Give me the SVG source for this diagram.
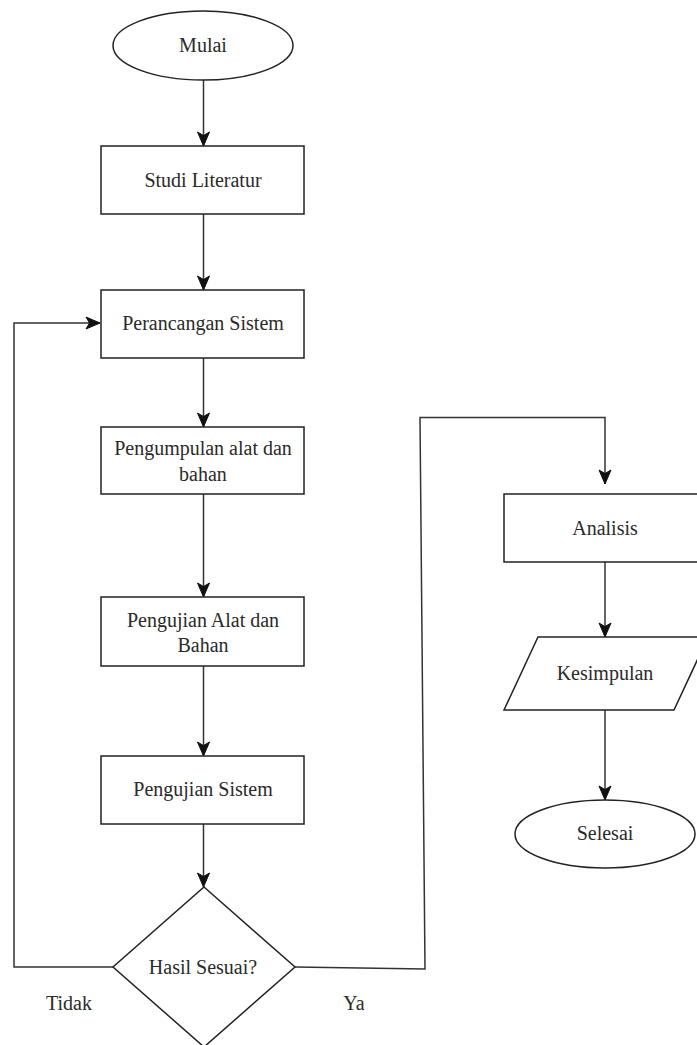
<svg xmlns="http://www.w3.org/2000/svg" width="697" height="1045" viewBox="0 0 697 1045">
  <style>
    .shape { fill: #ffffff; stroke: #222222; stroke-width: 1.5; }
    .conn { fill: none; stroke: #333333; stroke-width: 1.5; }
    .label { font-family: "Liberation Serif", "Times New Roman", serif; font-size: 20px; fill: #2a2a2a; text-anchor: middle; }
  </style>
  <defs>
    <marker id="arrow" markerUnits="userSpaceOnUse" markerWidth="16" markerHeight="16" viewBox="0 0 16 16" refX="15" refY="8" orient="auto">
      <path d="M1,2 L15,8 L1,14 L4.5,8 Z" fill="#111111" stroke="#111111" stroke-width="1"/>
    </marker>
  </defs>
  <rect width="697" height="1045" fill="#ffffff"/>

  <g id="connectors">
    <line class="conn" x1="203.5" y1="80" x2="203.5" y2="146" marker-end="url(#arrow)"/>
    <line class="conn" x1="203.5" y1="214" x2="203.5" y2="290" marker-end="url(#arrow)"/>
    <line class="conn" x1="203.5" y1="358" x2="203.5" y2="427" marker-end="url(#arrow)"/>
    <line class="conn" x1="203.5" y1="494" x2="203.5" y2="597" marker-end="url(#arrow)"/>
    <line class="conn" x1="203.5" y1="666" x2="203.5" y2="756" marker-end="url(#arrow)"/>
    <line class="conn" x1="203.5" y1="824" x2="203.5" y2="887" marker-end="url(#arrow)"/>
    <polyline class="conn" points="113,967 14,967 14,323 100,323" marker-end="url(#arrow)"/>
    <polyline class="conn" points="295,967 425,969 420,417.5 605,417.5 605,484" marker-end="url(#arrow)"/>
    <line class="conn" x1="605" y1="562" x2="605" y2="637" marker-end="url(#arrow)"/>
    <line class="conn" x1="605" y1="710" x2="605" y2="800" marker-end="url(#arrow)"/>
  </g>

  <g id="mulai">
    <ellipse class="shape" cx="203" cy="45.5" rx="90" ry="34.5"/>
    <text class="label" x="203" y="52">Mulai</text>
  </g>
  <g id="studi-literatur">
    <rect class="shape" x="101" y="146" width="203" height="68"/>
    <text class="label" x="203" y="187">Studi Literatur</text>
  </g>
  <g id="perancangan-sistem">
    <rect class="shape" x="101" y="290" width="203" height="68"/>
    <text class="label" x="203" y="330">Perancangan Sistem</text>
  </g>
  <g id="pengumpulan">
    <rect class="shape" x="101" y="427" width="203" height="67"/>
    <text class="label" x="203" y="455">Pengumpulan alat dan</text>
    <text class="label" x="203" y="481">bahan</text>
  </g>
  <g id="pengujian-alat">
    <rect class="shape" x="101" y="597" width="203" height="69"/>
    <text class="label" x="203" y="627">Pengujian Alat dan</text>
    <text class="label" x="203" y="652">Bahan</text>
  </g>
  <g id="pengujian-sistem">
    <rect class="shape" x="101" y="756" width="203" height="68"/>
    <text class="label" x="203" y="796">Pengujian Sistem</text>
  </g>
  <g id="hasil-sesuai">
    <polygon class="shape" points="204,887 295,967 204,1047 113,967"/>
    <text class="label" x="203" y="974">Hasil Sesuai?</text>
  </g>
  <g id="label-tidak">
    <text class="label" x="69" y="1010">Tidak</text>
  </g>
  <g id="label-ya">
    <text class="label" x="354" y="1010">Ya</text>
  </g>
  <g id="analisis">
    <rect class="shape" x="504" y="494" width="203" height="68"/>
    <text class="label" x="605" y="535">Analisis</text>
  </g>
  <g id="kesimpulan">
    <polygon class="shape" points="538,637 708,637 674,710 504,710"/>
    <text class="label" x="605" y="680">Kesimpulan</text>
  </g>
  <g id="selesai">
    <ellipse class="shape" cx="605" cy="834" rx="90" ry="34"/>
    <text class="label" x="605" y="840">Selesai</text>
  </g>
</svg>
